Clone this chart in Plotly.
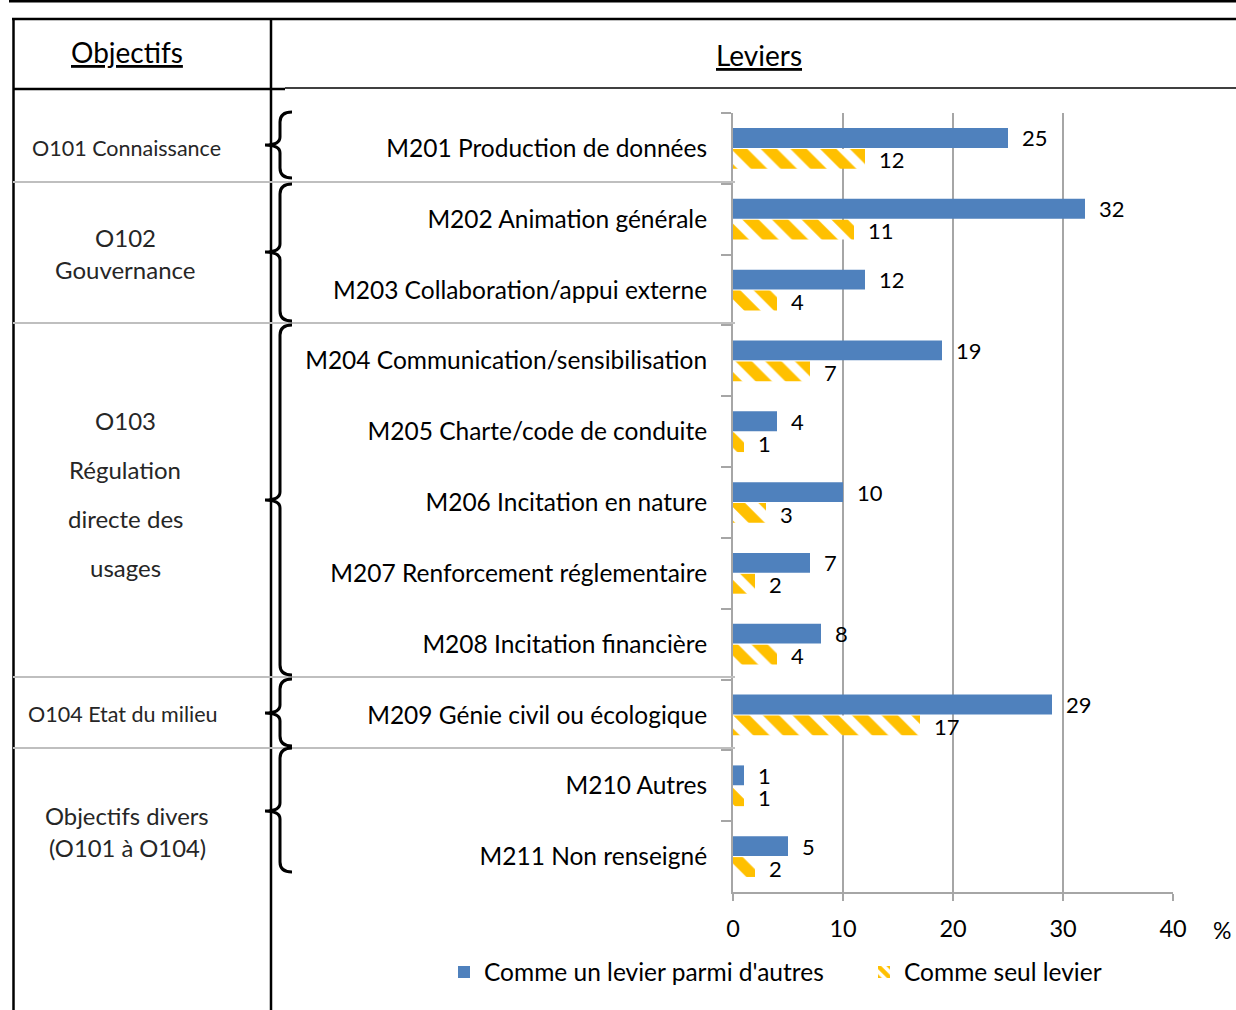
import plotly.graph_objects as go

# ---- data -------------------------------------------------------------
leviers = [
    "M201 Production de données",
    "M202 Animation générale",
    "M203 Collaboration/appui externe",
    "M204 Communication/sensibilisation",
    "M205 Charte/code de conduite",
    "M206 Incitation en nature",
    "M207 Renforcement réglementaire",
    "M208 Incitation financière",
    "M209 Génie civil ou écologique",
    "M210 Autres",
    "M211 Non renseigné",
]
parmi_autres = [25, 32, 12, 19, 4, 10, 7, 8, 29, 1, 5]
seul_levier = [12, 11, 4, 7, 1, 3, 2, 4, 17, 1, 2]
x_ticks = [0, 10, 20, 30, 40]

series_names = ["Comme un levier parmi d'autres", "Comme seul levier"]

# objective groups: text lines of each group label
objectifs = [
    ["O101 Connaissance"],
    ["O102", "Gouvernance"],
    ["O103", "Régulation", "directe des", "usages"],
    ["O104 Etat du milieu"],
    ["Objectifs divers", "(O101 à O104)"],
]

# ---- page geometry (pixels) ------------------------------------------
W, H = 1236, 1010
PL, PR, PT, PB = 733, 1173, 113, 892      # plot area box


def px(x):
    return (x - PL) / (PR - PL)


def py(y):
    return (PB - y) / (PB - PT)


FONT = "Lato"
BLUE = "#4F81BD"
GOLD = "#FFC000"
GRID = "#A6A6A6"

fig = go.Figure()

fig.add_trace(go.Bar(
    y=leviers, x=parmi_autres, orientation="h", name=series_names[0],
    marker=dict(color=BLUE, line=dict(width=0)),
    legend="legend", hoverinfo="skip",
))
fig.add_trace(go.Bar(
    y=leviers, x=seul_levier, orientation="h", name=series_names[1],
    marker=dict(color=GOLD, line=dict(width=0),
                pattern=dict(shape="\\", size=21, solidity=0.55,
                             fgcolor=GOLD, fgopacity=1, bgcolor="white")),
    legend="legend2", hoverinfo="skip",
))

annotations = []
# value labels next to each bar
for cat, a, b in zip(leviers, parmi_autres, seul_levier):
    annotations.append(dict(x=a, y=cat, xref="x", yref="y", text=str(a),
                            showarrow=False, xanchor="left", yanchor="middle",
                            xshift=12, yshift=11, height=20,
                            font=dict(family=FONT, size=22, color="black")))
    annotations.append(dict(x=b, y=cat, xref="x", yref="y", text=str(b),
                            showarrow=False, xanchor="left", yanchor="middle",
                            xshift=12, yshift=-11, height=20,
                            font=dict(family=FONT, size=22, color="black")))

# column headers
annotations.append(dict(x=px(127), y=py(52), xref="paper", yref="paper",
                        text="<u>Objectifs</u>", showarrow=False,
                        xanchor="center", yanchor="middle",
                        font=dict(family=FONT, size=28, color="black")))
annotations.append(dict(x=px(759), y=py(55), xref="paper", yref="paper",
                        text="<u>Leviers</u>", showarrow=False,
                        xanchor="center", yanchor="middle",
                        font=dict(family=FONT, size=28, color="black")))

# objective labels in the left column: (x, y, anchor) per line, font size per group
obj_layout = [
    [(30, 148, "left")],
    [(125, 237, "center"), (125, 269, "center")],
    [(125, 420, "center"), (125, 469, "center"), (125, 518, "center"), (125, 567, "center")],
    [(26, 714, "left")],
    [(127, 816, "center"), (127, 848, "center")],
]
obj_font_sizes = [21.5, 24, 24, 21.5, 23.8]
for lines, places, fs in zip(objectifs, obj_layout, obj_font_sizes):
    for txt, (xx, yy, anc) in zip(lines, places):
        annotations.append(dict(x=px(xx), y=py(yy), xref="paper", yref="paper",
                                text=txt, showarrow=False, xanchor=anc,
                                yanchor="middle",
                                font=dict(family=FONT, size=fs, color="#262626")))

# unit label of the value axis
annotations.append(dict(x=px(1222), y=py(930), xref="paper", yref="paper",
                        text="%", showarrow=False, xanchor="center",
                        yanchor="middle",
                        font=dict(family=FONT, size=23, color="black")))

shapes = []


def hline(x0, x1, y, width=2.5, color="black"):
    shapes.append(dict(type="line", xref="paper", yref="paper",
                       x0=px(x0), x1=px(x1), y0=py(y), y1=py(y),
                       line=dict(color=color, width=width)))


def vline(x, y0, y1, width=2.5, color="black"):
    shapes.append(dict(type="line", xref="paper", yref="paper",
                       x0=px(x), x1=px(x), y0=py(y0), y1=py(y1),
                       line=dict(color=color, width=width)))


# table frame
hline(9, W, 1.3)
hline(12, W, 19)
vline(13.5, 18, H)
vline(271, 18, H)
hline(13, 285, 89)
hline(285, W, 88, width=1.5)

# group separators
for ysep in [182, 323, 677, 748]:
    hline(13, 735, ysep, width=2, color="#BFBFBF")


def brace(y0, y1, ym, xe=292, xs=280, xt=265, r=10, rt=8):
    pts = [
        f"M {px(xe)},{py(y0)}",
        f"Q {px(xs)},{py(y0)} {px(xs)},{py(y0 + r)}",
        f"L {px(xs)},{py(ym - rt)}",
        f"Q {px(xs)},{py(ym)} {px(xt)},{py(ym)}",
        f"Q {px(xs)},{py(ym)} {px(xs)},{py(ym + rt)}",
        f"L {px(xs)},{py(y1 - r)}",
        f"Q {px(xs)},{py(y1)} {px(xe)},{py(y1)}",
    ]
    shapes.append(dict(type="path", xref="paper", yref="paper",
                       path=" ".join(pts),
                       line=dict(color="black", width=3)))


for (y0, y1, ym) in [(112, 178, 145), (184, 321, 252), (325, 675, 500),
                     (679, 746, 713), (748, 872, 811)]:
    brace(y0, y1, ym)

legend_style = dict(orientation="h", xanchor="left", yanchor="middle",
                    y=py(972), font=dict(family=FONT, size=24.5),
                    bgcolor="rgba(0,0,0,0)")

fig.update_layout(
    width=W, height=H,
    margin=dict(l=PL, r=W - PR, t=PT, b=H - PB, pad=0),
    paper_bgcolor="white", plot_bgcolor="white",
    barmode="group", bargap=0.41, bargroupgap=0.05,
    font=dict(family=FONT, color="black"),
    showlegend=True,
    legend=dict(x=px(444), **legend_style),
    legend2=dict(x=px(864), **legend_style),
    annotations=annotations,
    shapes=shapes,
    xaxis=dict(range=[0, 40], tickvals=x_ticks, showgrid=True,
               gridcolor=GRID, gridwidth=2, zeroline=False,
               showline=True, linecolor=GRID, linewidth=2,
               ticks="outside", ticklen=7, tickwidth=2, tickcolor=GRID,
               tickfont=dict(family=FONT, size=23.5, color="black"),
               ticklabelstandoff=8, fixedrange=True),
    yaxis=dict(categoryorder="array", categoryarray=leviers,
               autorange="reversed", showgrid=False, zeroline=False,
               showline=True, linecolor=GRID, linewidth=2,
               ticks="outside", ticklen=10, tickwidth=2, tickcolor=GRID,
               tickson="boundaries",
               tickfont=dict(family=FONT, size=24.5, color="black"),
               ticklabelstandoff=19, fixedrange=True),
)

fig.write_html("out.html")
